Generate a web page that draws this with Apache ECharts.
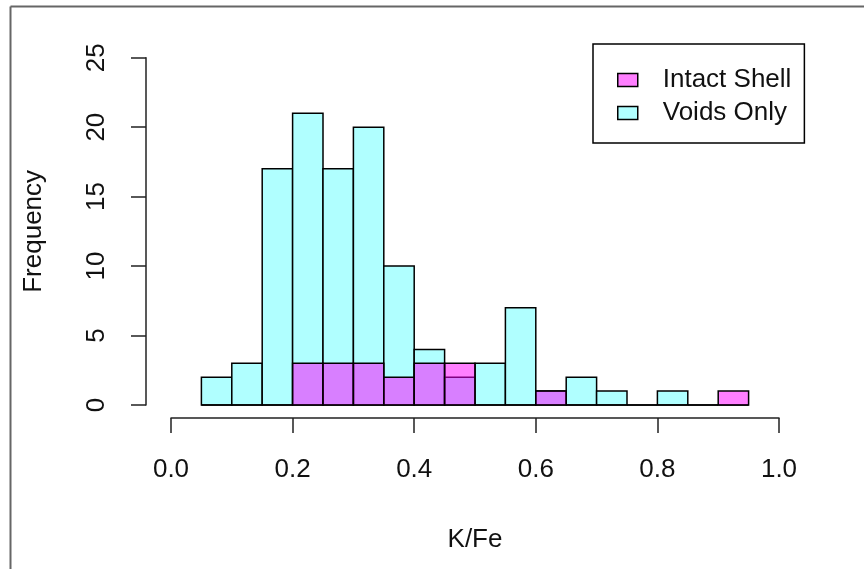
<!DOCTYPE html>
<html>
<head>
<meta charset="utf-8">
<script src="https://cdn.jsdelivr.net/npm/echarts@6/dist/echarts.min.js"></script>
<style>
  html, body { margin: 0; padding: 0; background: #fff; }
  #chart { width: 864px; height: 569px; }
</style>
</head>
<body>
<div id="chart"></div>
<script>
// histogram bins of K/Fe, width 0.05
const binStarts = [0.05, 0.10, 0.15, 0.20, 0.25, 0.30, 0.35, 0.40, 0.45,
                   0.50, 0.55, 0.60, 0.65, 0.70, 0.75, 0.80, 0.85, 0.90];
const binWidth = 0.05;
const voidsCounts = [2, 3, 17, 21, 17, 20, 10, 4, 2, 3, 7, 1, 2, 1, 0, 1, 0, 0];
const intactCounts = [0, 0, 0, 3, 3, 3, 2, 3, 3, 0, 0, 1, 0, 0, 0, 0, 0, 1];
const xTicks = [0.0, 0.2, 0.4, 0.6, 0.8, 1.0];
const yTicks = [0, 5, 10, 15, 20, 25];

const voidsColor = '#b0ffff';
const intactColor = 'rgba(255, 0, 255, 0.5)';
const font = '"Liberation Sans", Arial, sans-serif';
const ink = '#111';

const chart = echarts.init(document.getElementById('chart'));

const toBins = counts => counts.map((c, i) => [binStarts[i], binStarts[i] + binWidth, c]);

const renderBar = fill => (params, api) => {
  const p0 = api.coord([api.value(0), 0]);
  const p1 = api.coord([api.value(1), api.value(2)]);
  return {
    type: 'rect',
    shape: { x: p0[0], y: p1[1], width: p1[0] - p0[0], height: p0[1] - p1[1] },
    style: { fill: fill, stroke: '#000', lineWidth: 1.5 }
  };
};

const option = {
  animation: false,
  textStyle: { fontFamily: font },
  grid: { left: 171, right: 85, top: 57.7, bottom: 164 },
  xAxis: {
    type: 'value',
    min: xTicks[0],
    max: xTicks[xTicks.length - 1],
    interval: 0.2,
    offset: 13,
    name: 'K/Fe',
    nameLocation: 'middle',
    nameGap: 109,
    nameTextStyle: { fontSize: 26, color: ink, fontFamily: font },
    splitLine: { show: false },
    axisLine: { onZero: false, lineStyle: { color: '#222', width: 1.5 } },
    axisTick: { length: 15, lineStyle: { color: '#222', width: 1.5 } },
    axisLabel: {
      margin: 39,
      fontSize: 26,
      color: ink,
      fontFamily: font,
      formatter: v => v.toFixed(1)
    }
  },
  yAxis: {
    type: 'value',
    min: yTicks[0],
    max: yTicks[yTicks.length - 1],
    interval: 5,
    offset: 25,
    name: 'Frequency',
    nameLocation: 'middle',
    nameRotate: 90,
    nameGap: 99,
    nameTextStyle: { fontSize: 26, color: ink, fontFamily: font },
    splitLine: { show: false },
    axisLine: { show: true, onZero: false, lineStyle: { color: '#222', width: 1.5 } },
    axisTick: { show: true, length: 15, lineStyle: { color: '#222', width: 1.5 } },
    axisLabel: {
      margin: 36,
      rotate: 90,
      fontSize: 26,
      color: ink,
      fontFamily: font
    }
  },
  legend: {
    data: ['Intact Shell', 'Voids Only'],
    orient: 'vertical',
    left: 593,
    top: 44,
    selectedMode: false,
    icon: 'rect',
    itemWidth: 20,
    itemHeight: 13,
    itemGap: 7,
    padding: [23, 13, 17, 24],
    borderColor: '#000',
    borderWidth: 1.5,
    backgroundColor: '#fff',
    itemStyle: { borderColor: '#000', borderWidth: 1.5 },
    textStyle: { fontSize: 26, color: ink, fontFamily: font, padding: [0, 0, 0, 20] }
  },
  series: [
    {
      name: 'Voids Only',
      type: 'custom',
      renderItem: renderBar(voidsColor),
      itemStyle: { color: voidsColor },
      encode: { x: [0, 1], y: 2 },
      data: toBins(voidsCounts),
      z: 2
    },
    {
      name: 'Intact Shell',
      type: 'custom',
      renderItem: renderBar(intactColor),
      itemStyle: { color: intactColor },
      encode: { x: [0, 1], y: 2 },
      data: toBins(intactCounts),
      z: 3
    }
  ],
  graphic: [
    { type: 'line', shape: { x1: 10.5, y1: 6.5, x2: 864, y2: 6.5 }, style: { stroke: '#666', lineWidth: 2 } },
    { type: 'line', shape: { x1: 10.5, y1: 6.5, x2: 10.5, y2: 569 }, style: { stroke: '#666', lineWidth: 2 } }
  ]
};

chart.setOption(option);
</script>
</body>
</html>
